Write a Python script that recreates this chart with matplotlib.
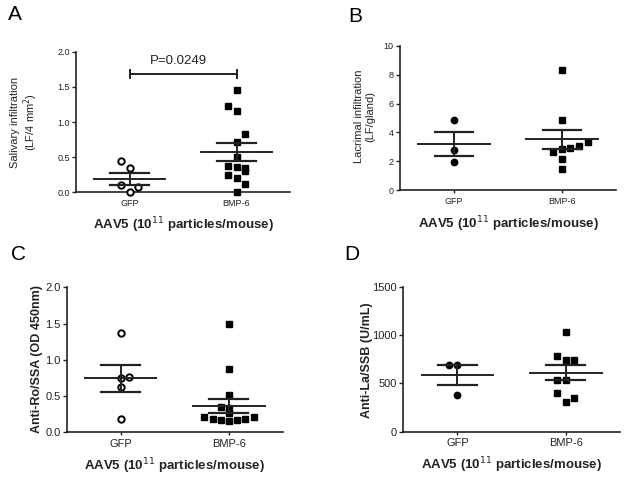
import matplotlib
matplotlib.use('Agg')
import matplotlib.pyplot as plt

plt.rcParams['font.family'] = ['Liberation Sans', 'DejaVu Sans']

groups = ['GFP', 'BMP-6']
xlab = 'AAV5 (10$^{11}$ particles/mouse)'

# A - salivary infiltration
a_gfp = [0.445, 0.35, 0.10, 0.0, 0.08]
a_gfp_dx = [-0.08, 0, -0.08, 0, 0.08]
a_bmp = [1.45, 1.23, 1.15, 0.83, 0.72, 0.50, 0.37, 0.36, 0.35, 0.31, 0.25, 0.20, 0.12, 0.0]
a_bmp_dx = [0, -0.08, 0, 0.08, 0, 0, -0.08, 0, 0.08, 0.08, -0.08, 0, 0.08, 0]
a_mean = [0.194, 0.577]
a_sem = [0.086, 0.128]

# B - lacrimal infiltration
b_gfp = [4.83, 2.80, 1.98]
b_gfp_dx = [0, 0, 0]
b_bmp = [8.34, 4.83, 3.33, 3.06, 2.94, 2.85, 2.67, 2.18, 1.49]
b_bmp_dx = [0, 0, 0.24, 0.155, 0.076, 0, -0.08, 0, 0]
b_mean = [3.2, 3.52]
b_sem = [0.84, 0.67]

# C - anti-Ro/SSA
c_gfp = [1.366, 0.768, 0.754, 0.63, 0.184]
c_gfp_dx = [0, 0.077, 0, 0, 0]
c_bmp = [1.50, 0.87, 0.52, 0.35, 0.33, 0.27, 0.21, 0.19, 0.17, 0.16, 0.17, 0.19, 0.21]
c_bmp_dx = [0, 0, 0, -0.077, 0, 0, -0.23, -0.15, -0.077, 0, 0.077, 0.15, 0.23]
c_mean = [0.745, 0.36]
c_sem = [0.19, 0.095]

# D - anti-La/SSB
d_gfp = [695, 690, 380]
d_gfp_dx = [-0.077, 0, 0]
d_bmp = [1028, 783, 742, 742, 535, 535, 397, 310, 345]
d_bmp_dx = [0, -0.08, 0, 0.08, -0.08, 0, -0.08, 0, 0.08]
d_mean = [590, 610]
d_sem = [105, 78]

panels = [
    dict(letter='A', rect=[76, 51.7, 290, 192.3], gfp=a_gfp, gdx=a_gfp_dx, bmp=a_bmp, bdx=a_bmp_dx,
         mean=a_mean, sem=a_sem, ylim=(0, 2), yticks=[0, 0.5, 1.0, 1.5, 2.0], fmt='%.1f',
         ylabel='Salivary infiltration\n(LF/4 mm$^2$)', ybold=False, ysize=8, tsize=6.5,
         ylc=(-0.168, 0.5), open_gfp=True, lpos=(15, 15)),
    dict(letter='B', rect=[400, 45.7, 616, 190.3], gfp=b_gfp, gdx=b_gfp_dx, bmp=b_bmp, bdx=b_bmp_dx,
         mean=b_mean, sem=b_sem, ylim=(0, 10), yticks=[0, 2, 4, 6, 8, 10], fmt='%d',
         ylabel='Lacrimal infiltration\n(LF/gland)', ybold=False, ysize=8, tsize=6.5,
         ylc=(-0.116, 0.51), open_gfp=False, lpos=(355, 17)),
    dict(letter='C', rect=[66.7, 287.3, 283, 432.3], gfp=c_gfp, gdx=c_gfp_dx, bmp=c_bmp, bdx=c_bmp_dx,
         mean=c_mean, sem=c_sem, ylim=(0, 2), yticks=[0, 0.5, 1.0, 1.5, 2.0], fmt='%.1f',
         ylabel='Anti-Ro/SSA (OD 450nm)', ybold=True, ysize=9, tsize=8,
         ylc=(-0.11, 0.505), open_gfp=True, lpos=(19, 254)),
    dict(letter='D', rect=[403.3, 286.7, 620, 431.7], gfp=d_gfp, gdx=d_gfp_dx, bmp=d_bmp, bdx=d_bmp_dx,
         mean=d_mean, sem=d_sem, ylim=(0, 1500), yticks=[0, 500, 1000, 1500], fmt='%d',
         ylabel='Anti-La/SSB (U/mL)', ybold=True, ysize=9, tsize=8,
         ylc=(-0.14, 0.49), open_gfp=False, lpos=(352, 254)),
]

W, H = 631, 479
fig = plt.figure(figsize=(W / 100, H / 100), dpi=100, facecolor='white')
col = '#222222'

for p in panels:
    x0, y0, x1, y1 = p['rect']
    ax = fig.add_axes([x0 / W, 1 - y1 / H, (x1 - x0) / W, (y1 - y0) / H])
    ax.set_xlim(-0.5, 1.5)
    ax.set_ylim(*p['ylim'])
    ax.set_yticks(p['yticks'])
    ax.yaxis.set_major_formatter(matplotlib.ticker.FormatStrFormatter(p['fmt']))
    ax.set_xticks([0, 1])
    ax.set_xticklabels(groups)
    for s in ['top', 'right']:
        ax.spines[s].set_visible(False)
    for s in ['left', 'bottom']:
        ax.spines[s].set_linewidth(1.2)
        ax.spines[s].set_color(col)
    ax.tick_params(axis='y', length=3, width=1, labelsize=p['tsize'], colors=col, pad=1.5)
    ax.tick_params(axis='x', length=2, width=1, labelsize=p['tsize'], colors=col, pad=2.5)

    gx = [0 + d for d in p['gdx']]
    bx = [1 + d for d in p['bdx']]
    if p['open_gfp']:
        ax.plot(gx, p['gfp'], 'o', ms=4.6, mfc='white', mec='black', mew=1.4, clip_on=False, zorder=3)
    else:
        ax.plot(gx, p['gfp'], 'o', ms=4.6, mfc='black', mec='black', clip_on=False, zorder=3)
    ax.plot(bx, p['bmp'], 's', ms=4.3, mfc='black', mec='black', clip_on=False, zorder=3)

    for i in range(2):
        m, e = p['mean'][i], p['sem'][i]
        ax.plot([i - 0.33, i + 0.33], [m, m], color=col, lw=1.4, zorder=4)
        ax.plot([i, i], [m - e, m + e], color=col, lw=1.4, zorder=4)
        ax.plot([i - 0.18, i + 0.18], [m + e, m + e], color=col, lw=1.6, zorder=4)
        ax.plot([i - 0.18, i + 0.18], [m - e, m - e], color=col, lw=1.6, zorder=4)

    ax.set_ylabel(p['ylabel'], fontsize=p['ysize'], fontweight='bold' if p['ybold'] else 'normal',
                  color=col, linespacing=1.1)
    ax.yaxis.set_label_coords(*p['ylc'])
    ax.set_xlabel(xlab, fontsize=9.5, fontweight='bold', color=col)
    ax.xaxis.set_label_coords(0.5, -0.165)

    fig.text(p['lpos'][0] / W, 1 - p['lpos'][1] / H, p['letter'], fontsize=15,
             ha='center', va='center', color='black')

    if p['letter'] == 'A':
        yb = 1.68
        ax.plot([0, 1], [yb, yb], color=col, lw=1.4)
        ax.plot([0, 0], [yb - 0.06, yb + 0.06], color=col, lw=1.4)
        ax.plot([1, 1], [yb - 0.06, yb + 0.06], color=col, lw=1.4)
        ax.text(0.46, yb + 0.1, 'P=0.0249', fontsize=9.5, ha='center', va='bottom', color=col)

fig.savefig('out.png', dpi=100, facecolor='white')
